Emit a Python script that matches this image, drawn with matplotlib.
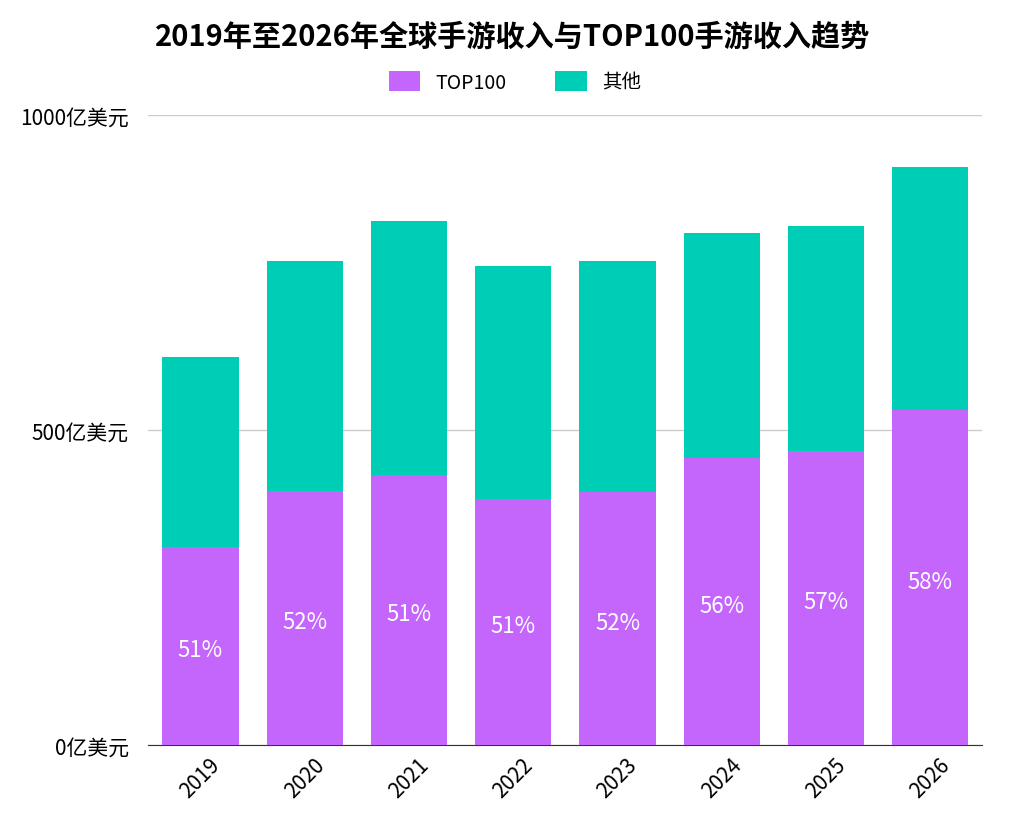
import matplotlib
matplotlib.use("Agg")
import matplotlib.pyplot as plt

plt.rcParams['font.family'] = ['Noto Sans CJK SC', 'DejaVu Sans']

years = ['2019', '2020', '2021', '2022', '2023', '2024', '2025', '2026']
top100 = [314, 403, 429, 390, 402, 456, 467, 532]
total = [616, 768, 832, 760, 768, 813, 824, 917]
pct = ['51%', '52%', '51%', '51%', '52%', '56%', '57%', '58%']
other = [t - a for t, a in zip(total, top100)]

fig = plt.figure(figsize=(10.16, 8.28), dpi=100)
ax = fig.add_axes([0.146, 0.099, 0.821, 0.761])
x = range(len(years))
c1, c2 = '#C466FC', '#00CDB5'
ax.bar(x, top100, width=0.73, color=c1, label='TOP100', zorder=3)
ax.bar(x, other, bottom=top100, width=0.73, color=c2, label='其他', zorder=3)
for i, (v, p) in enumerate(zip(top100, pct)):
    ax.text(i, v / 2 - 6, p, ha='center', va='center', color='white', fontsize=16, zorder=4)

ax.set_xlim(-0.5, 7.5)
ax.set_ylim(0, 1000)
ax.set_yticks([0, 500, 1000])
ax.set_yticklabels(['0亿美元', '500亿美元', '1000亿美元'], fontsize=15)
ax.yaxis.grid(True, color='#cccccc', linewidth=1, zorder=0)
ax.tick_params(axis='y', length=0, pad=14)
ax.set_xticks(list(x))
ax.set_xticklabels(years, rotation=45, fontsize=15)
ax.tick_params(axis='x', length=0, pad=6)
for s in ['top', 'right', 'left']:
    ax.spines[s].set_visible(False)
ax.spines['bottom'].set_color('#333333')

fig.text(0.505, 0.955, '2019年至2026年全球手游收入与TOP100手游收入趋势', ha='center', va='center',
         fontsize=21, fontweight='bold')
fig.legend(loc='center', bbox_to_anchor=(0.507, 0.9), ncol=2, frameon=False, fontsize=14,
           handlelength=1.6, handleheight=1.2, columnspacing=2.5)
fig.savefig('out.png', dpi=100)
